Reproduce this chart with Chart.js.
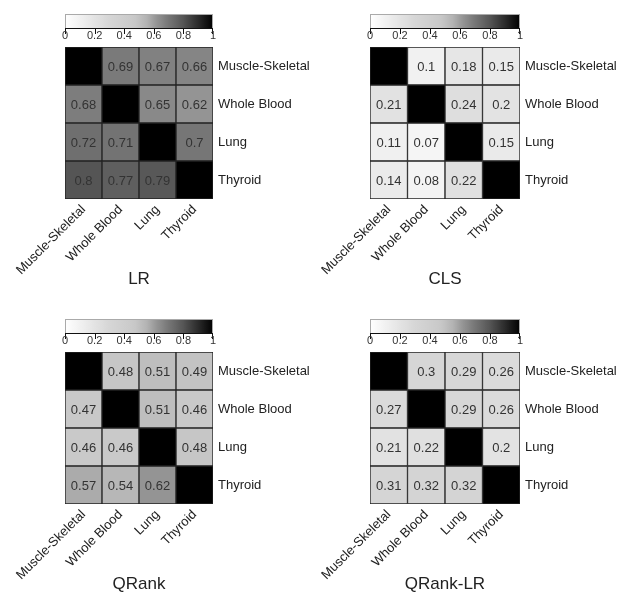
<!DOCTYPE html>
<html>
<head>
<meta charset="utf-8">
<script src="https://cdn.jsdelivr.net/npm/chart.js@4.4.0/dist/chart.umd.min.js"></script>
<style>
  body { margin: 0; background: #fff; width: 627px; height: 595px; overflow: hidden; position: relative; }
  canvas { position: absolute; }
</style>
</head>
<body>
<canvas id="lr" width="313" height="300" style="left:0;top:0"></canvas>
<canvas id="cls" width="322" height="300" style="left:305px;top:0"></canvas>
<canvas id="qrank" width="313" height="292" style="left:0;top:305px"></canvas>
<canvas id="qranklr" width="322" height="292" style="left:305px;top:305px"></canvas>
<script>
const tissues = ['Muscle-Skeletal', 'Whole Blood', 'Lung', 'Thyroid'];
const colorbarTicks = [0, 0.2, 0.4, 0.6, 0.8, 1];

// rows top -> bottom, columns left -> right, null = diagonal (black)
const lrVals = [
  [null, 0.69, 0.67, 0.66],
  [0.68, null, 0.65, 0.62],
  [0.72, 0.71, null, 0.7],
  [0.8, 0.77, 0.79, null]
];
const clsVals = [
  [null, 0.1, 0.18, 0.15],
  [0.21, null, 0.24, 0.2],
  [0.11, 0.07, null, 0.15],
  [0.14, 0.08, 0.22, null]
];
const qrankVals = [
  [null, 0.48, 0.51, 0.49],
  [0.47, null, 0.51, 0.46],
  [0.46, 0.46, null, 0.48],
  [0.57, 0.54, 0.62, null]
];
const qrankLrVals = [
  [null, 0.3, 0.29, 0.26],
  [0.27, null, 0.29, 0.26],
  [0.21, 0.22, null, 0.2],
  [0.31, 0.32, 0.32, null]
];

const FONT = '"Liberation Sans", Arial, sans-serif';

// grey colormap (value -> grey level)
const grayStops = [[0, 255], [0.1, 241], [0.2, 227], [0.3, 214], [0.47, 200], [0.55, 180], [0.62, 148], [0.7, 118], [0.8, 85], [1, 0]];
function grayFor(v) {
  if (v == null) v = 1;
  for (let i = 1; i < grayStops.length; i++) {
    const a = grayStops[i - 1], b = grayStops[i];
    if (v <= b[0]) {
      const g = Math.round(a[1] + (b[1] - a[1]) * (v - a[0]) / (b[0] - a[0]));
      return `rgb(${g},${g},${g})`;
    }
  }
  return 'rgb(0,0,0)';
}

const cellText = {
  id: 'cellText',
  afterDatasetsDraw(chart) {
    const ctx = chart.ctx;
    ctx.save();
    ctx.font = '13px ' + FONT;
    ctx.fillStyle = '#333';
    ctx.textAlign = 'center';
    ctx.textBaseline = 'middle';
    chart.data.datasets.forEach((ds, i) => {
      chart.getDatasetMeta(i).data.forEach((el, j) => {
        const v = ds.vals[j];
        if (v == null) return;
        const p = el.getCenterPoint();
        ctx.fillText(String(v), p.x, p.y + 1);
      });
    });
    ctx.restore();
  }
};

// colour bar above the grid, in the space kept by the 'cb' axis
const colorbar = {
  id: 'colorbar',
  afterDraw(chart) {
    const s = chart.scales.cb;
    const area = chart.chartArea;
    const ctx = chart.ctx;
    const left = area.left, right = area.right;
    const px = t => left + t * (right - left);
    const top = s.top + 14, bottom = s.top + 28;
    const grad = ctx.createLinearGradient(left, 0, right, 0);
    for (let k = 0; k <= 40; k++) grad.addColorStop(k / 40, grayFor(k / 40));
    ctx.save();
    ctx.fillStyle = grad;
    ctx.fillRect(left, top, right - left, bottom - top);
    ctx.strokeStyle = '#aaa';
    ctx.lineWidth = 1;
    ctx.strokeRect(left + 0.5, top + 0.5, right - left - 1, bottom - top);
    ctx.strokeStyle = '#111';
    ctx.beginPath();
    ctx.moveTo(left, bottom + 0.5);
    ctx.lineTo(right, bottom + 0.5);
    colorbarTicks.forEach(t => {
      const x = Math.round(px(t)) + (t === 1 ? -0.5 : 0.5);
      ctx.moveTo(x, bottom);
      ctx.lineTo(x, bottom + 6);
    });
    ctx.stroke();
    ctx.font = '11px ' + FONT;
    ctx.fillStyle = '#333';
    ctx.textAlign = 'center';
    ctx.textBaseline = 'top';
    colorbarTicks.forEach(t => {
      ctx.fillText(String(t), px(t), bottom + 2);
    });
    ctx.restore();
  }
};

function heatmap(id, title, vals, padRight) {
  const canvas = document.getElementById(id);
  const rowsBottomUp = vals.map((r, i) => ({ name: tissues[i], vals: r })).reverse();
  const datasets = rowsBottomUp.map(r => ({
    label: r.name,
    vals: r.vals,
    data: r.vals.map(() => 1),
    backgroundColor: r.vals.map(v => grayFor(v)),
    borderColor: '#222',
    borderWidth: 1,
    borderSkipped: false,
    barPercentage: 1,
    categoryPercentage: 1
  }));
  const padBottom = canvas.height - 47 - 152 - 78 - 11;
  return new Chart(canvas, {
    type: 'bar',
    data: { labels: tissues, datasets: datasets },
    options: {
      responsive: false,
      animation: false,
      devicePixelRatio: 1,
      layout: { padding: { left: 65, right: padRight, top: 0, bottom: padBottom } },
      scales: {
        x: {
          stacked: true,
          grid: { display: false, drawTicks: false },
          border: { display: false },
          ticks: { minRotation: 45, maxRotation: 45, autoSkip: false, padding: 3, color: '#222', font: { size: 13, family: FONT } },
          afterFit: s => { s.height = 78; }
        },
        cb: {
          type: 'linear',
          axis: 'x',
          position: 'top',
          min: 0,
          max: 1,
          grid: { display: false, drawTicks: false },
          border: { display: false },
          ticks: { display: false },
          afterFit: s => { s.height = 47; }
        },
        y: {
          stacked: true,
          position: 'right',
          min: 0,
          max: 4,
          grid: { display: false, drawTicks: false },
          border: { display: false },
          afterBuildTicks: s => { s.ticks = tissues.map((_, i) => ({ value: i + 0.5 })); },
          ticks: {
            padding: 5,
            color: '#222',
            font: { size: 13, family: FONT },
            callback: (v, i) => rowsBottomUp[i].name
          },
          afterFit: s => { s.width = 100; }
        }
      },
      plugins: {
        legend: { display: false },
        tooltip: { enabled: false },
        title: {
          display: true,
          text: title,
          position: 'bottom',
          fullSize: false,
          color: '#222',
          font: { size: 17, weight: 'normal', family: FONT, lineHeight: 1 },
          padding: { top: -6, bottom: 0 }
        }
      }
    },
    plugins: [cellText, colorbar]
  });
}

heatmap('lr', 'LR', lrVals, 0);
heatmap('cls', 'CLS', clsVals, 7);
heatmap('qrank', 'QRank', qrankVals, 0);
heatmap('qranklr', 'QRank-LR', qrankLrVals, 7);
</script>
</body>
</html>
